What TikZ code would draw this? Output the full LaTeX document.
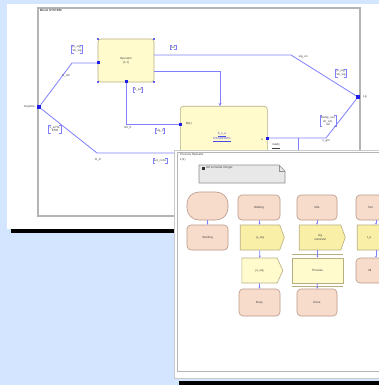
\documentclass[tikz,border=0pt]{standalone}
\usepackage{fontspec}
\setmainfont{Liberation Sans}
\usetikzlibrary{shapes.symbols,arrows.meta}
\definecolor{bgblue}{HTML}{D4E6FF}
\definecolor{sline}{HTML}{8080FF}
\definecolor{portblue}{HTML}{1E1EE6}
\definecolor{paley}{HTML}{FFFBCC}
\definecolor{sigy}{HTML}{F9EFA6}
\definecolor{peach}{HTML}{F8DCCB}
\definecolor{peachb}{HTML}{B89888}
\definecolor{yb}{HTML}{B8AE80}
\definecolor{frameg}{HTML}{B4B4B4}
\newcommand{\tinyf}{\fontsize{3}{3.6}\selectfont}
\newcommand{\sglist}[3]{%
  \node[sgltext] (#1) at (#2) {#3};
  \draw[bracket] ([xshift=2pt]#1.north west) -- (#1.north west) -- (#1.south west) -- ([xshift=2pt]#1.south west);
  \draw[bracket] ([xshift=-2pt]#1.north east) -- (#1.north east) -- (#1.south east) -- ([xshift=-2pt]#1.south east);}
\tikzset{
  sgltext/.style={inner sep=0.8pt, align=center, font=\tinyf, text=black!75},
  bracket/.style={draw=sline, line width=0.5pt},
  chan/.style={draw=sline, line width=0.8pt},
  lbl/.style={inner sep=0pt, font=\tinyf, text=black!75, align=center},
  proc/.style={draw=yb, fill=paley, rounded corners=3pt, line width=0.6pt, font=\tinyf, align=center, text=black!70},
  port/.style={fill=portblue, minimum size=4pt, inner sep=0pt},
  handle/.style={fill=portblue!70, minimum size=2pt, inner sep=0pt},
  stbox/.style={draw=peachb, fill=peach, rounded corners=4pt, line width=0.6pt, font=\tinyf, align=center, text=black!75, minimum height=25pt, inner sep=0pt},
  startbox/.style={draw=peachb, fill=peach, rounded corners=12pt, line width=0.6pt, minimum width=41pt, minimum height=28pt, inner sep=0pt},
  inbox/.style={shape=signal, signal from=east, signal pointer angle=140, draw=yb, fill=sigy, line width=0.6pt, font=\tinyf, align=center, text=black!75, minimum height=25pt, inner sep=0pt},
  outbox/.style={shape=signal, signal to=east, signal pointer angle=130, draw=yb, fill=paley, line width=0.6pt, font=\tinyf, align=center, text=black!75, minimum height=25pt, inner sep=0pt},
  taskbox/.style={draw=yb, fill=paley, line width=0.6pt, font=\tinyf, align=center, text=black!75, minimum height=25pt, inner sep=0pt},
  flow/.style={draw=sline, line width=0.7pt, -{Stealth[length=2pt,width=2pt]}}
}
\begin{document}
\begin{tikzpicture}[x=1pt,y=-1pt]
\useasboundingbox (0,0) rectangle (379,385);
% background
\fill[bgblue] (0,0) rectangle (379,385);
% ---------- top window ----------
\fill[white] (7,4) rectangle (379,229);
\fill[black] (11,229) rectangle (176,233);
\draw[frameg, line width=1.2pt] (38,8) rectangle (360,216);
\node[lbl, anchor=north west, font=\tinyf\bfseries] (title1) at (40,9.5) {Block SYSTEM};

% processes
\node[proc, minimum width=56pt, minimum height=43pt] (p1) at (126,60.5) {Operator\\(1,1)};
\node[proc, minimum width=87pt, minimum height=69pt, anchor=north west] (p2) at (180,106) {};
\node[lbl, anchor=west] (p2name) at (186,124) {B(1)};
\node[lbl, text=portblue!80] (p2txt) at (222,137) {\underline{b\_s\_a}\\\underline{DSGNPROC}};
\node[lbl] (p2a) at (262,140) {a};
\foreach \c in {north west, north east, south west, south east}
  \node[handle] at (p1.\c) {};

% ports
\node[port] (env1) at (39,107) {};
\node[port] (env2) at (358,97) {};
\node[lbl, anchor=east] (env1l) at (35,107) {Anytime};
\node[lbl, anchor=west] (env2l) at (363,97) {Lg};

% coordinates for channels
\coordinate (a1) at (72,63);
\coordinate (p1w) at (98,63);
\coordinate (a2) at (97,153);
\coordinate (a2e) at (176,153);
\coordinate (p1e1) at (154,55);
\coordinate (a3) at (291,55);
\coordinate (p1e2) at (154,71);
\coordinate (a4) at (220,71);
\coordinate (p2n) at (220,106);
\coordinate (p1s) at (126,82);
\coordinate (a5) at (126,124);
\coordinate (p2w) at (180,124);
\coordinate (a6) at (326,138);
\coordinate (p2e) at (267,138);
\coordinate (a7) at (298,138);
\coordinate (a7e) at (298,152);

\draw[chan] (env1) -- (a1) -- (p1w);
\draw[chan] (env1) -- (a2) -- (a2e);
\draw[chan] (p1e1) -- (a3) -- (env2);
\draw[chan, -{Stealth[length=3pt,width=3pt]}] (p1e2) -- (a4) -- (p2n);
\draw[chan] (p1s) -- (a5) -- (p2w);
\draw[chan] (env2) -- (a6) -- (p2e);
\draw[chan] (a7) -- (a7e);
\node[port, minimum size=3pt] (d1) at (p1w) {};
\node[port, minimum size=3pt] (d2) at (p1s) {};
\node[port, minimum size=3pt] (d3) at (p2w) {};
\node[port, minimum size=3pt] (d4) at (p2e) {};

% channel names
\node[lbl] (c1) at (66,76) {m\_sm};
\node[lbl] (c2) at (98,160) {m\_in};
\node[lbl] (c3) at (303,57) {sig\_un};
\node[lbl] (c4) at (128,128) {bit\_0};
\node[lbl] (c5) at (326,141) {s\_gm};
\node[lbl] (c6) at (276,146) {\underline{ready}};

% signal lists
\sglist{s1}{77,49}{ju\_sig,\\str\_sig}
\sglist{s2}{55,129}{s\_errSt,\\ERR}
\sglist{s3}{160,161}{set\_conn}
\sglist{s4}{173,47.5}{sel}
\sglist{s5}{341,73}{ju\_sig,\\str\_sig}
\sglist{s6}{138,90}{d\_sel}
\sglist{s7}{160,131}{sig\_d}
\sglist{s8}{328,121}{Dislay\_sel,\\str\_sel,\\sel}

% ---------- lower window ----------
\fill[black] (179,381) rectangle (379,385);
\draw[frameg!70, fill=white, line width=0.8pt] (174,150) rectangle (381,378);
\draw[frameg, line width=0.8pt] (177,152) rectangle (381,371);
\node[lbl, anchor=west] (title2) at (180,155) {Process Operator};
\node[lbl, anchor=west] (pg) at (180,160) {1(1)};

% text symbol
\draw[frameg!80!black, fill=black!9, line width=0.6pt] (199,165) -- (279,165) -- (285,171) -- (285,183) -- (199,183) -- cycle;
\draw[frameg!80!black, line width=0.5pt] (279,165) -- (279,171) -- (285,171);
\fill[black!80] (202,166.5) rectangle (205,169.5);
\node[lbl, anchor=west] (dcl) at (206,168) {dcl someVal Integer;};

% row 1
\node[startbox] (st) at (207.5,206) {};
\node[stbox, minimum width=42pt] (r1b) at (259,207.5) {Waiting};
\node[stbox, minimum width=40pt] (r1c) at (317,207.5) {Idle};
\node[stbox, minimum width=40pt] (r1d) at (376,207.5) {};
\node[lbl, anchor=west] (r1dt) at (368,207.5) {Set};
% row 2
\node[stbox, minimum width=41pt] (r2a) at (207.5,237.5) {Starting};
\node[inbox, minimum width=44pt] (r2b) at (260,237.5) {ju\_sig};
\node[inbox, minimum width=46pt] (r2c) at (320,237.5) {sig\\someVal};
\node[inbox, minimum width=44pt] (r2d) at (377,237.5) {};
\node[lbl, anchor=west] (r2dt) at (367,237.5) {t\_e};
% row 3
\node[outbox, minimum width=41pt] (r3b) at (259.5,270.5) {ju\_sig};
\node[taskbox, minimum width=51pt] (r3c) at (317.5,270.5) {Process};
\draw[yb, line width=0.5pt] ([yshift=3pt]r3c.north west) -- ([yshift=3pt]r3c.north east);
\draw[yb, line width=0.5pt] ([yshift=-3pt]r3c.south west) -- ([yshift=-3pt]r3c.south east);
\node[stbox, minimum width=40pt] (r3d) at (376,270.5) {};
\node[lbl, anchor=west] (r3dt) at (368,270.5) {Idl};
% row 4
\node[stbox, minimum width=41pt, minimum height=27pt] (r4b) at (259.5,302.5) {Busy};
\node[stbox, minimum width=40pt, minimum height=27pt] (r4c) at (317,302.5) {Done};

% flow lines
\draw[flow] (st) -- (r2a);
\draw[flow] (r1b) -- (r2b);
\draw[flow] (r2b) -- (r3b);
\draw[flow] (r3b) -- (r4b);
\draw[flow] (r1c) -- (r2c.north -| r1c);
\draw[flow] (r2c.south -| r3c) -- (r3c);
\draw[flow] (r3c) -- (r4c);
\draw[flow] (r1d) -- (r2d.north -| r1d);
\draw[flow] (r2d.south -| r3d) -- (r3d);
\end{tikzpicture}
\end{document}
